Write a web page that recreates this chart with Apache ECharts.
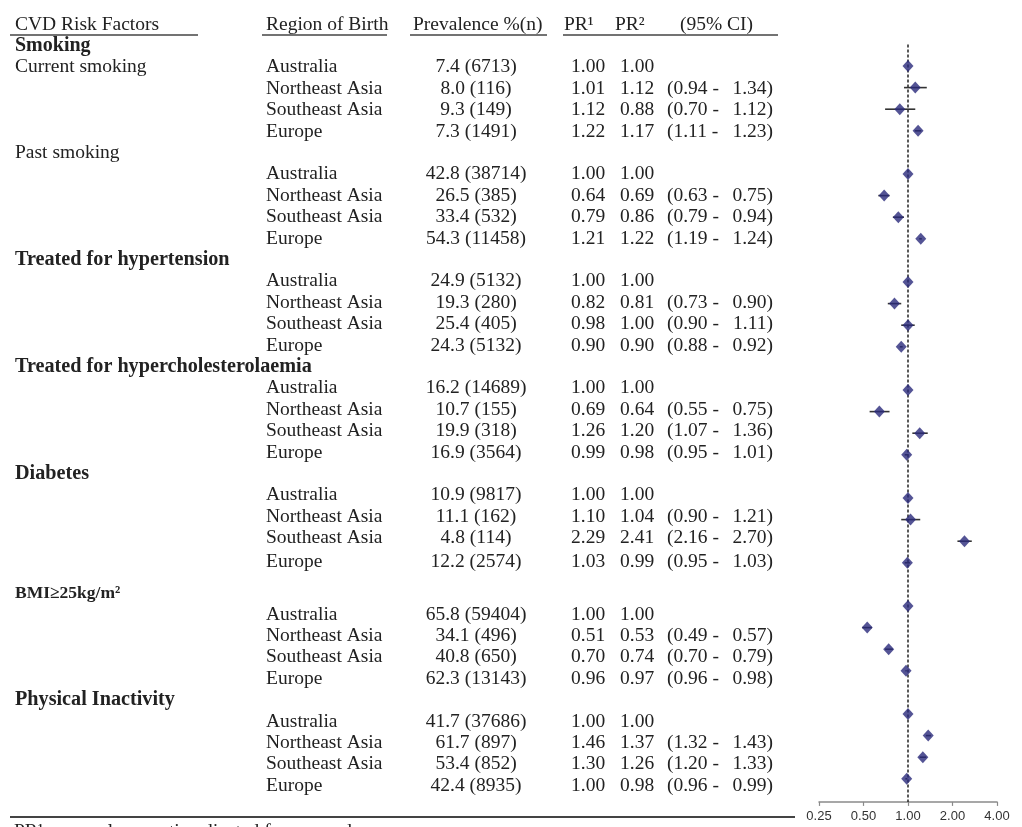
<!DOCTYPE html>
<html><head><meta charset="utf-8">
<script src="https://cdn.jsdelivr.net/npm/echarts@6/dist/echarts.min.js"></script>
<style>html,body{margin:0;padding:0;background:#fff}#c{width:1022px;height:827px}</style>
</head><body><div id="c"></div>
<script>
// ---------------- data ----------------
const headers = ['CVD Risk Factors', 'Region of Birth', 'Prevalence %(n)', 'PR¹', 'PR²', '(95% CI)'];
const groupTitle = 'Smoking';
const regions = ['Australia', 'Northeast Asia', 'Southeast Asia', 'Europe'];
const factors = ['Current smoking', 'Past smoking', 'Treated for hypertension', 'Treated for hypercholesterolaemia', 'Diabetes', 'BMI≥25kg/m²', 'Physical Inactivity'];
const prevalence = [7.4, 8.0, 9.3, 7.3, 42.8, 26.5, 33.4, 54.3, 24.9, 19.3, 25.4, 24.3, 16.2, 10.7, 19.9, 16.9, 10.9, 11.1, 4.8, 12.2, 65.8, 34.1, 40.8, 62.3, 41.7, 61.7, 53.4, 42.4];
const counts = [6713, 116, 149, 1491, 38714, 385, 532, 11458, 5132, 280, 405, 5132, 14689, 155, 318, 3564, 9817, 162, 114, 2574, 59404, 496, 650, 13143, 37686, 897, 852, 8935];
const pr1 = [1.00, 1.01, 1.12, 1.22, 1.00, 0.64, 0.79, 1.21, 1.00, 0.82, 0.98, 0.90, 1.00, 0.69, 1.26, 0.99, 1.00, 1.10, 2.29, 1.03, 1.00, 0.51, 0.70, 0.96, 1.00, 1.46, 1.30, 1.00];
const pr2 = [1.00, 1.12, 0.88, 1.17, 1.00, 0.69, 0.86, 1.22, 1.00, 0.81, 1.00, 0.90, 1.00, 0.64, 1.20, 0.98, 1.00, 1.04, 2.41, 0.99, 1.00, 0.53, 0.74, 0.97, 1.00, 1.37, 1.26, 0.98];
const ciLow = [null, 0.94, 0.70, 1.11, null, 0.63, 0.79, 1.19, null, 0.73, 0.90, 0.88, null, 0.55, 1.07, 0.95, null, 0.90, 2.16, 0.95, null, 0.49, 0.70, 0.96, null, 1.32, 1.20, 0.96];
const ciHigh = [null, 1.34, 1.12, 1.23, null, 0.75, 0.94, 1.24, null, 0.90, 1.11, 0.92, null, 0.75, 1.36, 1.01, null, 1.21, 2.70, 1.03, null, 0.57, 0.79, 0.98, null, 1.43, 1.33, 0.99];
const footnote = 'PR¹ = prevalence ratio adjusted for age and sex';

// ---------------- layout ----------------
const FONT = '"Liberation Serif","Times New Roman",serif';
const FS = 19.5;
const col = { factor: 15, region: 266, prev: 476, pr1: 571, pr2: 620, ciL: 667, ciR: 773 };
const headCol = [15, 266, 413, 564, 615, 680];

function labelRow(f) { return f === 0 ? 2 : (f === 1 ? 6 : 6 + 5 * (f - 1)); }
function dataRow(f, r) { return (f === 0 ? 2 : labelRow(f) + 1) + r; }
function tableY(row) { return row >= 26 ? row + 0.57 : (row === 25 ? row + 0.1 : row); }

// build table cells
const cells = [];
headers.forEach((h, i) => cells.push({ x: headCol[i], row: 0, text: h, align: 'left' }));
cells.push({ x: col.factor, row: 1, text: groupTitle, align: 'left', bold: true, size: 20 });
const forestPts = [], ciSegs = [];
factors.forEach((name, f) => {
  const big = f >= 2;
  cells.push({ x: col.factor, row: labelRow(f), text: name, align: 'left', bold: big, size: f === 5 ? 17.5 : (big ? 20.2 : FS) });
  regions.forEach((reg, r) => {
    const i = f * 4 + r, row = dataRow(f, r);
    cells.push({ x: col.region, row, text: reg, align: 'left' });
    cells.push({ x: col.prev, row, text: prevalence[i].toFixed(1) + ' (' + counts[i] + ')', align: 'center' });
    cells.push({ x: col.pr1, row, text: pr1[i].toFixed(2), align: 'left' });
    cells.push({ x: col.pr2, row, text: pr2[i].toFixed(2), align: 'left' });
    if (ciLow[i] != null) {
      cells.push({ x: col.ciL, row, text: '(' + ciLow[i].toFixed(2) + ' -', align: 'left' });
      cells.push({ x: col.ciR, row, text: ciHigh[i].toFixed(2) + ')', align: 'right' });
      ciSegs.push([ciLow[i], ciHigh[i], row]);
    }
    forestPts.push([pr2[i], row]);
  });
});

const FOREST_YMAX = 36.07;
const chart = echarts.init(document.getElementById('c'), null, { renderer: 'canvas' });
chart.setOption({
  animation: false,
  backgroundColor: '#fff',
  grid: [
    { left: 0, right: 0, top: 24.5, height: 21.4 * 36, containLabel: false, outerBoundsMode: 'none' },
    { left: 819, right: 25, top: 22.8, height: 21.6 * FOREST_YMAX, containLabel: false, outerBoundsMode: 'none' }
  ],
  xAxis: [
    { gridIndex: 0, type: 'value', min: 0, max: 1022, show: false },
    {
      gridIndex: 1, type: 'log', logBase: 2, min: 0.25, max: 4, splitNumber: 4, position: 'bottom',
      axisLine: { show: true, onZero: false, lineStyle: { color: '#8a8a8a', width: 1.5 } },
      axisTick: { show: true, length: 4, lineStyle: { color: '#8a8a8a', width: 1.2 } },
      splitLine: { show: false },
      axisLabel: { margin: 8, fontFamily: '"Liberation Sans",Arial,sans-serif', fontSize: 13, color: '#333', formatter: v => Number(v).toFixed(2) }
    }
  ],
  yAxis: [
    { gridIndex: 0, type: 'value', min: 0, max: 36, inverse: true, show: false },
    { gridIndex: 1, type: 'value', min: 0, max: FOREST_YMAX, inverse: true, show: false }
  ],
  graphic: [
    { type: 'line', shape: { x1: 10, y1: 35, x2: 198, y2: 35 }, style: { stroke: '#444', lineWidth: 1.5 } },
    { type: 'line', shape: { x1: 262, y1: 35, x2: 387, y2: 35 }, style: { stroke: '#444', lineWidth: 1.5 } },
    { type: 'line', shape: { x1: 410, y1: 35, x2: 547, y2: 35 }, style: { stroke: '#444', lineWidth: 1.5 } },
    { type: 'line', shape: { x1: 563, y1: 35, x2: 778, y2: 35 }, style: { stroke: '#444', lineWidth: 1.5 } },
    { type: 'line', shape: { x1: 10, y1: 817, x2: 795, y2: 817 }, style: { stroke: '#444', lineWidth: 2 } },
    { type: 'text', x: 14, y: 822, style: { text: footnote, font: FS + 'px ' + FONT, fill: '#222', verticalAlign: 'top' } }
  ],
  series: [
    {
      type: 'custom', xAxisIndex: 0, yAxisIndex: 0, coordinateSystem: 'cartesian2d', silent: true,
      data: cells.map(c => [c.x, tableY(c.row)]),
      renderItem: (params, api) => {
        const c = cells[params.dataIndex];
        const p = api.coord([api.value(0), api.value(1)]);
        return {
          type: 'text', x: p[0], y: p[1],
          style: {
            text: c.text, fill: '#222', align: c.align, verticalAlign: 'middle',
            font: (c.bold ? 'bold ' : '') + (c.size || FS) + 'px ' + FONT
          }
        };
      }
    },
    {
      type: 'line', xAxisIndex: 1, yAxisIndex: 1, symbol: 'none', silent: true, z: 1,
      data: [[1, 1], [1, FOREST_YMAX]],
      lineStyle: { color: '#222', width: 1.5, type: [3, 2] }
    },
    {
      type: 'custom', xAxisIndex: 1, yAxisIndex: 1, coordinateSystem: 'cartesian2d', silent: true, z: 2,
      data: ciSegs,
      renderItem: (params, api) => {
        const a = api.coord([api.value(0), api.value(2)]);
        const b = api.coord([api.value(1), api.value(2)]);
        return { type: 'line', shape: { x1: a[0], y1: a[1], x2: b[0], y2: b[1] }, style: { stroke: '#333', lineWidth: 1.6 } };
      }
    },
    {
      type: 'scatter', xAxisIndex: 1, yAxisIndex: 1, silent: true, z: 3,
      symbol: 'diamond', symbolSize: [11, 12],
      itemStyle: { color: '#29297a' },
      data: forestPts
    }
  ]
});
</script></body></html>
